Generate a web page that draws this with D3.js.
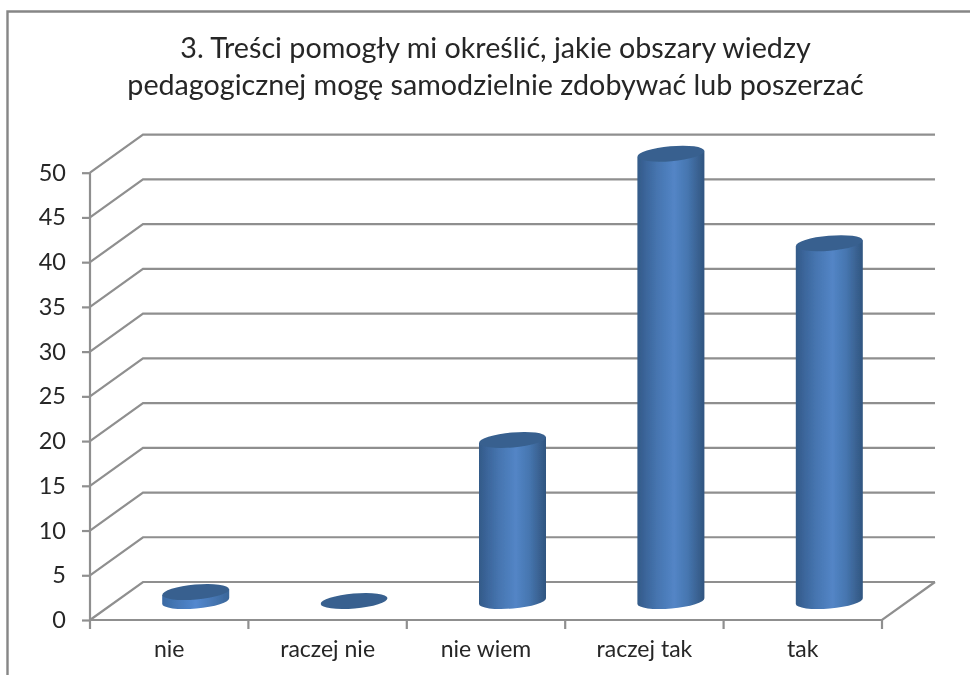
<!DOCTYPE html>
<html><head><meta charset="utf-8">
<script src="https://cdn.jsdelivr.net/npm/d3@7"></script>
<style>html,body{margin:0;background:#fff}svg{display:block}text{font-family:Lato,Carlito,sans-serif;fill:#262626}</style>
</head><body><svg id="c" width="970" height="675"></svg>
<script>
const categories=["nie","raczej nie","nie wiem","raczej tak","tak"];
const values=[1,0,18,50,40];
const yTicks=[0,5,10,15,20,25,30,35,40,45,50];
const titleLines=["3. Treści pomogły mi określić, jakie obszary wiedzy","pedagogicznej mogę samodzielnie zdobywać lub poszerzać"];

const svg=d3.select("#c");
const x=d3.scaleBand().domain(categories).range([90,882]);
const y=d3.scaleLinear().domain([0,50]).range([620,172.7]);
const depthX=53, depthY=-38, grid="#8f8f8f";

const defs=svg.append("defs");
defs.append("filter").attr("id","soft").attr("x","-5%").attr("y","-5%").attr("width","110%").attr("height","110%")
  .append("feGaussianBlur").attr("stdDeviation",0.55);
const g=defs.append("linearGradient").attr("id","cyl");
[[0,"#335a88"],[0.12,"#3b659a"],[0.3,"#4675b0"],[0.55,"#5385c6"],[0.75,"#4676b0"],[0.9,"#3a6292"],[1,"#2f5580"]]
  .forEach(([o,c])=>g.append("stop").attr("offset",o).attr("stop-color",c));
const gb=defs.append("linearGradient").attr("id","disc");
[[0,"#3a6aa3"],[0.5,"#5388cf"],[1,"#3a6699"]]
  .forEach(([o,c])=>gb.append("stop").attr("offset",o).attr("stop-color",c));

const root=svg.append("g").attr("filter","url(#soft)");

// frame
root.append("path").attr("d","M7.5 675V11.5H975").attr("fill","none").attr("stroke","#868686").attr("stroke-width",2.4);

// gridlines: wall + side wall
const gl=root.append("g").attr("fill","none").attr("stroke",grid).attr("stroke-width",2.2);
yTicks.forEach(t=>{
  gl.append("path").attr("d",`M${x.range()[0]} ${y(t)}l${depthX} ${depthY}H${x.range()[1]+depthX}`);
});
// floor front & right edges
gl.append("path").attr("d",`M${x.range()[1]+depthX} ${y(0)+depthY}L${x.range()[1]} ${y(0)}H${x.range()[0]}V${y(50)}`);

// axis ticks
const yAxis=d3.axisLeft(y).tickValues(yTicks).tickSize(8).tickPadding(16);
const ya=root.append("g").attr("transform",`translate(${x.range()[0]},0)`).call(yAxis);
ya.select(".domain").remove();
ya.selectAll("line").attr("stroke",grid).attr("stroke-width",2.2);
ya.selectAll("text").attr("font-size",23.5).style("font-family","Lato,Carlito,sans-serif").attr("fill","#262626");

const xAxis=d3.axisBottom(x).tickSize(0).tickPadding(21);
const xa=root.append("g").attr("transform",`translate(0,${y(0)})`).call(xAxis);
xa.select(".domain").remove();
xa.selectAll("line").remove();
xa.selectAll("text").attr("font-size",23).style("font-family","Lato,Carlito,sans-serif").attr("fill","#262626");
const edges=categories.map(c=>x(c)).concat(x.range()[1]);
root.append("g").selectAll("line").data(edges).join("line")
  .attr("x1",d=>d).attr("x2",d=>d).attr("y1",y(0)).attr("y2",y(0)+9)
  .attr("stroke",grid).attr("stroke-width",2.2);

// cylinders
const rx=33.5, ry=7.5, tilt=-5, slope=Math.tan(tilt*Math.PI/180);
const cols=root.append("g").selectAll("g").data(categories.map((c,i)=>({c,v:values[i]}))).join("g")
  .attr("transform",d=>`translate(${x(d.c)+x.bandwidth()/2+depthX/2},${depthY/2})`);
cols.filter(d=>d.v>0).append("path")
  .attr("d",d=>{
    const t=y(d.v), b=y(0);
    return `M${-rx} ${t-rx*slope}L${-rx} ${b-rx*slope}A${rx} ${ry} ${tilt} 0 0 ${rx} ${b+rx*slope}L${rx} ${t+rx*slope}Z`;
  })
  .attr("fill",d=>d.v<3?"url(#disc)":"url(#cyl)");
cols.append("ellipse")
  .attr("cx",0).attr("cy",d=>y(d.v)).attr("rx",rx).attr("ry",ry)
  .attr("transform",d=>`rotate(${tilt} 0 ${y(d.v)})`)
  .attr("fill","#38618f");

// title
root.append("text").attr("text-anchor","middle").attr("font-size",28.7)
  .selectAll("tspan").data(titleLines).join("tspan")
  .attr("x",495.5).attr("y",(d,i)=>58+i*37).text(d=>d);
</script></body></html>
